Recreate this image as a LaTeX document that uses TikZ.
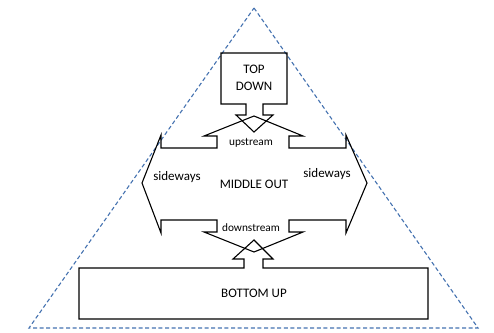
\documentclass[tikz,border=0pt]{standalone}
\usepackage{fontspec}
\setmainfont{Carlito}
\definecolor{pyrblue}{RGB}{68,114,176}

\begin{document}
\begin{tikzpicture}[x=1pt,y=-1pt,line join=miter]
  \tikzstyle{shape line}=[draw=black,line width=1.1pt]
  \tikzstyle{big label}=[font=\fontsize{13}{16.5}\selectfont,align=center,inner sep=0pt]
  \tikzstyle{small label}=[font=\fontsize{11.3}{13}\selectfont,inner sep=0pt]
  \tikzstyle{pyramid}=[draw=pyrblue,line width=1.1pt,dash pattern=on 4pt off 2.6pt]

  \useasboundingbox (0,0) rectangle (494,332);

  % Draw the dashed pyramid
  \draw[pyramid] (254,8) -- (478,328) -- (29,328) -- cycle;

  % Draw the top down box with its arrow
  \draw[shape line] (221,53) -- (287,53) -- (287,104) -- (263,104) -- (263,115)
      -- (273,115) -- (254,132) -- (236,115) -- (246,115) -- (246,104)
      -- (221,104) -- cycle;

  % Draw the middle out shape
  \draw[shape line] (161,148) -- (217,148) -- (217,136) -- (204,136) -- (254,116)
      -- (303,136) -- (289,136) -- (289,148) -- (346,148) -- (346,135)
      -- (367,183) -- (346,233) -- (346,220) -- (289,220) -- (289,232)
      -- (303,232) -- (254,252) -- (204,232) -- (217,232) -- (217,220)
      -- (161,220) -- (161,233) -- (142,183) -- (161,135) -- cycle;

  % Draw the bottom up box with its arrow
  \draw[shape line] (79,268) -- (244,268) -- (244,259) -- (233,259) -- (254,240)
      -- (273,259) -- (263,259) -- (263,268) -- (428,268) -- (428,319)
      -- (79,319) -- cycle;

  % Annotate the shapes
  \node[big label] (td) at (254,78) {TOP\\DOWN};
  \node[small label] (up) at (251,143) {upstream};
  \node[big label] (sl) at (177,177) {sideways};
  \node[big label] (sr) at (327,174) {sideways};
  \node[big label] (mo) at (254,184) {MIDDLE OUT};
  \node[small label] (down) at (251,228) {downstream};
  \node[big label] (bu) at (254,293) {BOTTOM UP};
\end{tikzpicture}
\end{document}
